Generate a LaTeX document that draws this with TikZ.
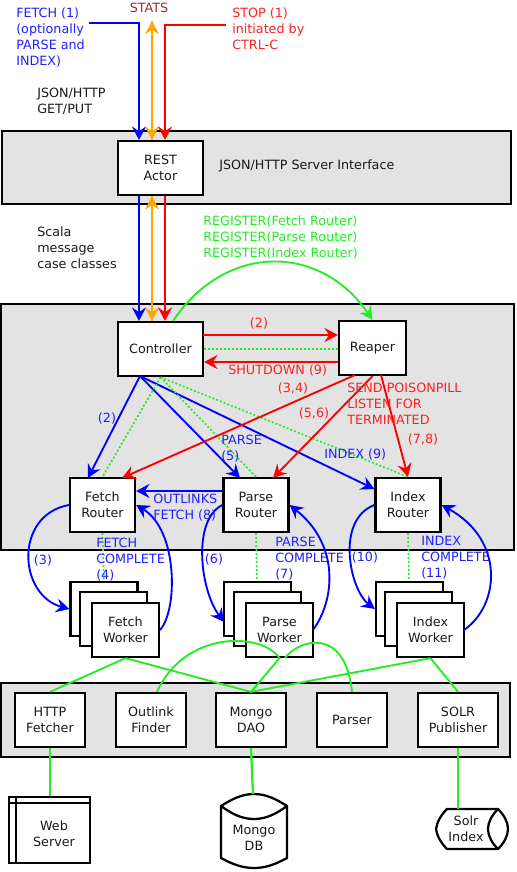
\documentclass[tikz,border=0pt]{standalone}
\usepackage{fontspec}
\setmainfont{DejaVu Sans}
\usetikzlibrary{arrows.meta,calc}
\definecolor{blueLine}{HTML}{0000FF}
\definecolor{blueText}{HTML}{2020FF}
\definecolor{redLine}{HTML}{FF0000}
\definecolor{redText}{HTML}{FF2020}
\definecolor{greenLine}{HTML}{22EE22}
\definecolor{orangeLine}{HTML}{FFA500}
\definecolor{statsText}{HTML}{A52A2A}
\definecolor{bandFill}{HTML}{E3E3E3}
\definecolor{inkText}{HTML}{1A1A1A}

\begin{document}
\begin{tikzpicture}[
  x=0.75pt, y=-0.75pt,
  font=\fontsize{9.55}{12}\selectfont,
  every node/.style={text=inkText},
  band/.style={draw=black, line width=1.7pt, fill=bandFill, inner sep=0pt},
  box/.style={draw=black, line width=1.7pt, fill=white, align=center, inner sep=0pt,
              minimum height=40.5pt},
  ctl/.style={box, minimum width=63.75pt},
  ctlr/.style={box, minimum width=50.25pt},
  rtr/.style={box, minimum width=48.75pt},
  wkr/.style={box, minimum width=50.25pt},
  svc/.style={box, minimum width=52.5pt},
  lbl/.style={align=left, anchor=west, inner sep=0pt},
  num/.style={inner sep=0pt},
  tip/.style={-{Stealth[length=10pt,width=10.5pt,inset=3.5pt]}},
  call/.style={tip, draw=blueLine, line width=1.7pt},
  kill/.style={tip, draw=redLine, line width=1.7pt},
  stat/.style={tip, draw=orangeLine, line width=1.7pt},
  reg/.style={tip, draw=greenLine, line width=1.4pt},
  uses/.style={draw=greenLine, line width=1.4pt},
  watch/.style={draw=greenLine, line width=1.2pt, dash pattern=on 1.5pt off 1.5pt},
]
\useasboundingbox (0,0) rectangle (517,872);

% ---------------- BANDS ----------------
\node[band, minimum width=381.75pt, minimum height=54.75pt] (SRVBAND) at (256.5,167.5) {};
\node[band, minimum width=384.75pt, minimum height=184.5pt] (CTLBAND) at (257.5,427) {};
\node[band, minimum width=381.75pt, minimum height=55.5pt] (SVCBAND) at (255.5,720) {};

% ---------------- NODES (absolute grid) ----------------
\node[ctl] (REST) at (160.5,168) {REST\\Actor};
\node[ctl] (CONTROLLER) at (160.5,349) {Controller};
\node[ctlr] (REAPER) at (372.5,348) {Reaper};
\node[rtr] (FETCHR) at (102.5,505) {Fetch\\Router};
\node[rtr] (PARSER) at (256,505) {Parse\\Router};
\node[rtr] (INDEXR) at (408,505) {Index\\Router};

\node[svc] (HTTP) at (50,720) {HTTP\\Fetcher};
\node[svc] (OUTLINK) at (151,720) {Outlink\\Finder};
\node[svc] (DAO) at (251,720) {Mongo\\DAO};
\node[svc] (PARSEUTIL) at (352,720) {Parser};
\node[box, minimum width=60pt] (SOLR) at (458,720) {SOLR\\Publisher};

% ---------------- ROUTER TO WORKER (behind the stacks) ----------------
\draw[watch] (FETCHR.south) -- (104,582);
\draw[watch] (PARSER.south) -- (257,582);
\draw[watch] (INDEXR.south) -- (409,582);

% ---------------- WORKER STACKS ----------------
\node[wkr] (FW1) at (104,609) {};
\node[wkr] (FW2) at (113.5,619) {};
\node[wkr] (FETCHW) at (125.5,630) {Fetch\\Worker};
\node[wkr] (PW1) at (257.5,609) {};
\node[wkr] (PW2) at (267.5,619) {};
\node[wkr] (PARSEW) at (279.5,630) {Parse\\Worker};
\node[wkr] (IW1) at (409.5,609) {};
\node[wkr] (IW2) at (418.5,619) {};
\node[wkr] (INDEXW) at (430.5,630) {Index\\Worker};

% ---------------- STORES ----------------
\node[box, minimum width=60.75pt, minimum height=49.5pt] (WEB) at (49.5,830) {};
\draw[line width=1.7pt] ($(WEB.north west)+(6pt,0)$) -- ($(WEB.south west)+(6pt,0)$);
\draw[line width=1.7pt] ($(WEB.north west)+(0,-5.25pt)$) -- ($(WEB.north east)+(0,-5.25pt)$);
\node[num, align=center] (WEBTXT) at (54,834) {Web\\Server};

\draw[line width=1.7pt, fill=white] (221,806) .. controls (232,799) and (242,794) .. (254,794)
  .. controls (266,794) and (276,799) .. (287,806) -- (287,858)
  .. controls (276,864) and (266,868) .. (254,868) .. controls (242,868) and (232,864) .. (221,858) -- cycle;
\draw[line width=1.7pt] (221,806) .. controls (232,814) and (242,819) .. (254,819)
  .. controls (266,819) and (276,814) .. (287,806);
\node[num, align=center] (MONGODB) at (254,838) {Mongo\\DB};

\draw[line width=1.7pt, fill=white] (436,829) .. controls (437,822) and (441,815) .. (447,809) -- (498,809)
  .. controls (504,815) and (508,822) .. (508,829) .. controls (508,836) and (504,843) .. (498,849)
  -- (447,849) .. controls (441,843) and (437,836) .. (436,829) -- cycle;
\draw[line width=1.7pt] (498,809) .. controls (492,815) and (488,822) .. (488,829)
  .. controls (488,836) and (492,843) .. (498,849);
\node[num, align=center] (SOLRIDX) at (466,829) {Solr\\Index};

% ---------------- FREE ENDS ----------------
\coordinate (FETCHIN) at (89,23);
\coordinate (STATSOUT) at (152,21);
\coordinate (STOPIN) at (226,25);
\coordinate (bx) at (139,0);
\coordinate (ox) at (152,0);
\coordinate (rx) at (165,0);

% ---------------- EDGES ----------------
\draw[call] (FETCHIN) -| (bx |- REST.north);
\draw[stat] (ox |- REST.north) -- (STATSOUT);
\draw[stat] (STATSOUT) -- (ox |- REST.north);
\draw[kill] (STOPIN) -| (rx |- REST.north);
\draw[call] (bx |- REST.south) -- (bx |- CONTROLLER.north);
\draw[stat] (ox |- CONTROLLER.north) -- (ox |- REST.south);
\draw[stat] (ox |- REST.south) -- (ox |- CONTROLLER.north);
\draw[kill] (rx |- REST.south) -- (rx |- CONTROLLER.north);

\draw[reg] ($(CONTROLLER.north)+(9.5pt,0)$) .. controls (225,243) and (320,243) .. (REAPER.north);
\draw[kill] (203,335) -- (REAPER.west |- 0,335);
\draw[watch] (CONTROLLER.east) -- (REAPER.west |- CONTROLLER.east);
\draw[kill] (REAPER.west |- 0,362) -- (CONTROLLER.east |- 0,362);

% controller to routers
\draw[call, line width=1.4pt] (140,376) -- (88,478);
\draw[call, line width=1.4pt] (140,376) -- (240,478);
\draw[call, line width=1.4pt] (140,376) -- (INDEXR.west |- 0,489);
\draw[watch] (CONTROLLER.south) -- (FETCHR.north);
\draw[watch] (CONTROLLER.south) -- (PARSER.north);
\draw[watch] (CONTROLLER.south) -- (INDEXR.north);

% reaper to routers
\draw[kill, line width=1.4pt] (355,375) -- (122,478);
\draw[kill, line width=1.4pt] (REAPER.south) -- (273,478);
\draw[kill, line width=1.4pt] (381,375) -- (INDEXR.north);
\draw[call] (PARSER.west |- 0,491) -- (FETCHR.east |- 0,491);

% router loops
\draw[call, line width=1.4pt] (FETCHR.west) .. controls (14,515) and (18,595) .. (FW1.west);
\draw[call, line width=1.4pt] (160,630) .. controls (178,610) and (178,530) .. (FETCHR.east);
\draw[call, line width=1.4pt] (PARSER.west) .. controls (192,520) and (200,590) .. (224,622);
\draw[call, line width=1.4pt] (313,630) .. controls (335,600) and (340,545) .. (PARSER.east);
\draw[call, line width=1.4pt] (INDEXR.west) .. controls (335,520) and (350,590) .. (IW1.west);
\draw[call, line width=1.4pt] (464,630) .. controls (500,605) and (505,540) .. (INDEXR.east);

% workers to services
\draw[uses] (FETCHW.south) -- (HTTP.north);
\draw[uses] (FETCHW.south) -- (DAO.north);
\draw[uses] (INDEXW.south) -- (DAO.north);
\draw[uses] (INDEXW.south) -- (SOLR.north);
\draw[uses] (PARSEW.south) -- (DAO.north);
\draw[uses] ($(OUTLINK.north)+(4.5pt,0)$) .. controls (185,630) and (262,632) .. (PARSEW.south);
\draw[uses] (PARSEUTIL.north) .. controls (345,625) and (298,640) .. ($(PARSEW.south)+(4pt,0)$);

% services to stores
\draw[uses, line width=1.7pt] (HTTP.south) -- (WEB.north -| HTTP.south);
\draw[uses, line width=1.7pt] (DAO.south) -- (253,794);
\draw[uses, line width=1.7pt] (SOLR.south) -- (SOLR.south |- 0,809);

% ---------------- LABELS ----------------
\node[lbl, text=blueText] (TFETCH) at (16,38) {FETCH (1)\\(optionally\\PARSE and\\INDEX)};
\node[num, text=statsText] (TSTATS) at (149,8) {STATS};
\node[lbl, text=redText] (TSTOP) at (232,29) {STOP (1)\\initiated by\\CTRL-C};
\node[lbl] (TJSON) at (37,101) {JSON/HTTP\\GET/PUT};
\node[lbl] (TSERVER) at (219,166) {JSON/HTTP Server Interface};
\node[lbl] (TSCALA) at (37,248) {Scala\\message\\case classes};
\node[lbl, text=greenLine] (TREG) at (203,237) {REGISTER(Fetch Router)\\REGISTER(Parse Router)\\REGISTER(Index Router)};
\node[num, text=redText] (T2R) at (259,324) {(2)};
\node[lbl, text=redText] (TSHUT) at (228,371) {SHUTDOWN (9)};
\node[num, text=redText] (T34) at (293,389) {(3,4)};
\node[num, text=redText] (T56) at (314,414) {(5,6)};
\node[lbl, text=redText] (TSEND) at (347,404) {SEND POISONPILL\\LISTEN FOR\\TERMINATED};
\node[num, text=redText] (T78) at (423,440) {(7,8)};
\node[num, text=blueText] (T2B) at (107,419) {(2)};
\node[lbl, text=blueText] (TPARSE) at (221,449) {PARSE\\(5)};
\node[lbl, text=blueText] (TINDEX) at (324,455) {INDEX (9)};
\node[lbl, text=blueText] (TOUT) at (153,508) {OUTLINKS\\FETCH (8)};
\node[lbl, text=blueText] (TFC) at (96,560) {FETCH\\COMPLETE\\(4)};
\node[num, text=blueText] (T3) at (43,561) {(3)};
\node[num, text=blueText] (T6) at (214,559) {(6)};
\node[lbl, text=blueText] (TPC) at (275,559) {PARSE\\COMPLETE\\(7)};
\node[num, text=blueText] (T10) at (365,558) {(10)};
\node[lbl, text=blueText] (TIC) at (421,558) {INDEX\\COMPLETE\\(11)};
\end{tikzpicture}
\end{document}
